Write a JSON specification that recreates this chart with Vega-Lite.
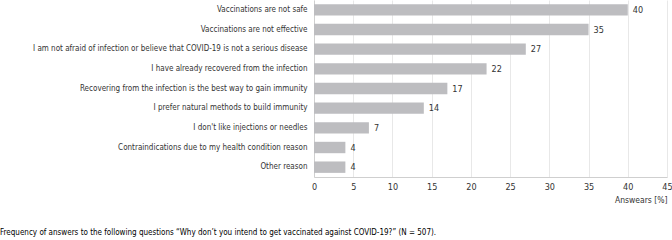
{
  "$schema": "https://vega.github.io/schema/vega-lite/v6.json",
  "width": 353,
  "height": 177,
  "autosize": "none",
  "padding": {"left": 314, "top": 0, "right": 5, "bottom": 63},
  "background": "white",
  "config": {
    "font": "'DejaVu Sans Condensed', 'Liberation Sans', sans-serif",
    "view": {"stroke": null}
  },
  "title": {
    "text": "Frequency of answers to the following questions “Why don’t you intend to get vaccinated against COVID-19?” (N = 507).",
    "orient": "bottom",
    "anchor": "start",
    "frame": "group",
    "dx": -314,
    "offset": 25,
    "fontSize": 8,
    "fontWeight": "normal",
    "color": "#000",
    "font": "'DejaVu Sans Condensed', 'Liberation Sans', sans-serif"
  },
  "data": {
    "values": [
      {"reason": "Vaccinations are not safe", "value": 40},
      {"reason": "Vaccinations are not effective", "value": 35},
      {"reason": "I am not afraid of infection or believe that COVID-19 is not a serious disease", "value": 27},
      {"reason": "I have already recovered from the infection", "value": 22},
      {"reason": "Recovering from the infection is the best way to gain immunity", "value": 17},
      {"reason": "I prefer natural methods to build immunity", "value": 14},
      {"reason": "I don't like injections or needles", "value": 7},
      {"reason": "Contraindications due to my health condition reason", "value": 4},
      {"reason": "Other reason", "value": 4}
    ]
  },
  "encoding": {
    "y": {
      "field": "reason",
      "type": "nominal",
      "sort": null,
      "scale": {"paddingInner": 0.42, "paddingOuter": 0.21},
      "axis": {
        "title": null,
        "ticks": false,
        "labelPadding": 7,
        "labelLimit": 400,
        "labelFontSize": 8,
        "labelColor": "#333",
        "domainColor": "#cfcfcf",
        "grid": false
      }
    },
    "x": {
      "field": "value",
      "type": "quantitative",
      "scale": {"domain": [0, 45]},
      "axis": {
        "values": [0, 5, 10, 15, 20, 25, 30, 35, 40, 45],
        "title": "Answears [%]",
        "titleAnchor": "end",
        "titleAlign": "right",
        "titleFontWeight": "normal",
        "titleFontSize": 8.5,
        "titleColor": "#333",
        "titlePadding": 4,
        "ticks": false,
        "labelPadding": 5,
        "labelFontSize": 9,
        "labelColor": "#333",
        "domainColor": "#cfcfcf",
        "gridColor": "#e8e8e8",
        "labelFlush": false
      }
    }
  },
  "layer": [
    {"mark": {"type": "bar", "color": "#bdbdc0"}},
    {
      "mark": {"type": "text", "align": "left", "dx": 5, "fontSize": 9, "color": "#333"},
      "encoding": {"text": {"field": "value", "type": "quantitative"}}
    }
  ]
}
